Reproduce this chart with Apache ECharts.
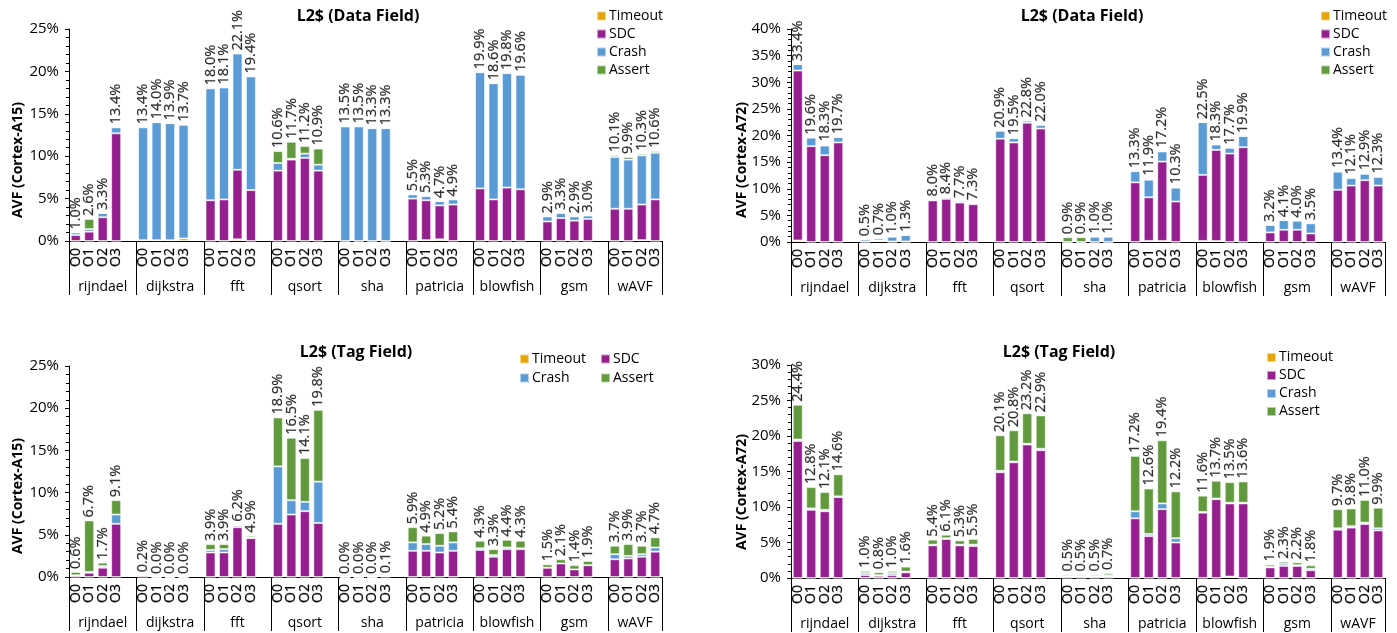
<!DOCTYPE html>
<html>
<head>
<meta charset="utf-8">
<title>L2$ AVF</title>
<script src="https://cdn.jsdelivr.net/npm/echarts@6/dist/echarts.min.js"></script>
<style>
  html, body { margin: 0; padding: 0; background: #fff; }
  #chart { width: 1397px; height: 633px; }
</style>
</head>
<body>
<div id="chart"></div>
<script>
// Benchmarks (groups) and optimisation levels (bars within a group)
const benchmarks = ['rijndael', 'dijkstra', 'fft', 'qsort', 'sha', 'patricia', 'blowfish', 'gsm', 'wAVF'];
const levels = ['O0', 'O1', 'O2', 'O3'];
const outcomes = ['Timeout', 'SDC', 'Crash', 'Assert'];
const yMaxA15 = 25;   // axis max (%) for Cortex-A15 panels
const yMaxA72Data = 40;
const yMaxA72Tag = 30;

// AVF (%) per benchmark, O0..O3 — Cortex-A15, data field
const a15DataTimeout = [0,0,0,0, 0.1,0.1,0.1,0.3, 0,0,0.2,0, 0,0,0,0, 0,0,0,0, 0,0.1,0.2,0, 0,0,0,0, 0,0,0,0, 0,0,0.1,0];
const a15DataSdc     = [0.7,1.1,2.8,12.7, 0,0,0,0, 4.8,4.9,8.2,6.0, 8.3,9.6,9.8,8.3, 0,0,0,0, 5.0,4.7,4.0,4.3, 6.2,4.9,6.3,6.1, 2.3,2.7,2.4,2.6, 3.8,3.8,4.2,4.9];
const a15DataCrash   = [0.3,0.3,0.5,0.7, 13.3,13.9,13.8,13.4, 13.2,13.2,13.7,13.4, 0.9,0.1,0.5,0.7, 13.5,13.5,13.3,13.3, 0.5,0.5,0.5,0.6, 13.7,13.7,13.5,13.5, 0.6,0.6,0.5,0.4, 6.1,5.8,5.8,5.5];
const a15DataAssert  = [0,1.2,0,0, 0,0,0,0, 0,0,0,0, 1.4,2.0,0.9,1.9, 0,0,0,0, 0,0,0,0, 0,0,0,0, 0,0,0,0, 0.2,0.3,0.2,0.2];

// Cortex-A72, data field
const a72DataTimeout = [0.3,0,0,0, 0,0.2,0,0, 0,0,0,0, 0,0,0,0, 0,0,0,0, 0,0.2,0.2,0, 0.2,0.2,0,0, 0,0,0,0, 0,0,0,0];
const a72DataSdc     = [31.9,18.0,16.3,18.7, 0.1,0.1,0.1,0.1, 7.8,8.1,7.4,7.1, 19.4,18.7,22.4,21.3, 0,0,0,0, 11.2,8.2,14.9,7.6, 12.4,17.1,16.6,17.8, 1.8,2.3,2.3,1.6, 9.8,10.6,11.6,10.6];
const a72DataCrash   = [1.2,1.6,1.8,1.0, 0.4,0.4,0.9,1.2, 0.2,0.3,0.3,0.2, 1.5,0.8,0.4,0.7, 0,0,1.0,1.0, 2.1,3.3,1.9,2.6, 9.9,1.0,1.1,2.1, 1.4,1.8,1.7,1.9, 3.4,1.4,1.2,1.6];
const a72DataAssert  = [0,0,0.2,0, 0,0,0,0, 0,0,0,0, 0,0,0,0, 0.9,0.9,0,0, 0,0.2,0.2,0.1, 0,0,0,0, 0,0,0,0, 0.2,0.1,0.1,0.1];

// Cortex-A15, tag field
const a15TagTimeout = [0,0,0,0, 0,0,0,0, 0,0,0,0, 0,0,0,0, 0,0,0,0, 0,0,0,0, 0,0,0,0, 0,0,0,0, 0,0,0,0];
const a15TagSdc     = [0.2,0.5,1.1,6.3, 0.2,0,0,0, 2.9,2.9,5.9,4.6, 6.3,7.4,7.8,6.4, 0,0,0,0.1, 3.1,3.1,2.9,3.1, 3.2,2.4,3.3,3.3, 1.1,1.6,0.9,1.4, 2.1,2.2,2.4,3.0];
const a15TagCrash   = [0,0.1,0.2,1.1, 0,0,0,0, 0.3,0.4,0.2,0.1, 6.8,1.7,1.1,4.9, 0,0,0,0, 1.0,0.8,0.8,1.0, 0.2,0.2,0.2,0.1, 0,0,0,0, 0.6,0.3,0.3,0.5];
const a15TagAssert  = [0.4,6.1,0.4,1.7, 0,0,0,0, 0.7,0.6,0.1,0.2, 5.8,7.4,5.2,8.5, 0,0,0,0, 1.8,1.0,1.5,1.3, 0.9,0.7,0.9,0.9, 0.4,0.5,0.5,0.5, 1.0,1.4,1.0,1.2];

// Cortex-A72, tag field
const a72TagTimeout = [0,0,0,0, 0,0,0,0, 0,0,0,0, 0,0,0,0, 0,0,0,0, 0,0,0,0, 0,0,0.2,0, 0,0,0,0, 0,0,0,0];
const a72TagSdc     = [19.3,9.6,9.4,11.4, 0.4,0.3,0.4,0.8, 4.6,5.5,4.6,4.5, 14.9,16.3,18.8,18.0, 0.2,0.2,0.2,0.2, 8.4,5.9,9.7,5.0, 9.2,11.1,10.3,10.5, 1.5,1.7,1.7,1.1, 6.8,7.1,7.6,6.7];
const a72TagCrash   = [0.2,0.2,0.2,0.1, 0.3,0.1,0.3,0.1, 0.1,0.1,0.1,0.2, 0.2,0.1,0.1,0.2, 0.1,0.1,0.1,0.2, 1.0,0.3,0.8,0.6, 0.1,0.1,0.1,0.1, 0.1,0.3,0.1,0.2, 0.2,0.2,0.2,0.3];
const a72TagAssert  = [4.9,3.0,2.5,3.1, 0.3,0.4,0.3,0.7, 0.7,0.5,0.6,0.8, 5.0,4.4,4.3,4.7, 0.2,0.2,0.2,0.3, 7.8,6.4,8.9,6.6, 2.3,2.5,2.9,3.0, 0.3,0.3,0.4,0.5, 2.7,2.5,3.2,2.9];

const colors = { Timeout: '#E5A503', SDC: '#951F8E', Crash: '#5A9BD5', Assert: '#609A3C' };
const FONT = '"Open Sans", "Noto Sans", sans-serif';
const TEXT = '#000';

// Insert one empty slot between benchmark groups (none after the last group)
function withGaps(vals, gap) {
  const out = [];
  vals.forEach((v, i) => {
    out.push(v);
    if (i % 4 === 3 && i < vals.length - 1) out.push(gap);
  });
  return out;
}

const flatLevels = [];
benchmarks.forEach(() => levels.forEach(l => flatLevels.push(l)));
const categories = withGaps(flatLevels, '');
const slotCount = categories.length;               // 44
const groupEdges = [];
const groupCenters = [];
benchmarks.forEach((b, i) => {
  groupEdges.push(i * 5);
  groupCenters.push(i < benchmarks.length - 1 ? i * 5 + 2.5 : (i * 5 + slotCount) / 2);
});
groupEdges.push(slotCount);

const panels = [
  { title: 'L2$ (Data Field)', yName: 'AVF (Cortex-A15)', yMax: yMaxA15,
    data: [a15DataTimeout, a15DataSdc, a15DataCrash, a15DataAssert],
    grid: { left: 69, top: 29, width: 593, height: 212 },
    titlePos: [358, 16], yNamePos: [18, 160] },
  { title: 'L2$ (Data Field)', yName: 'AVF (Cortex-A72)', yMax: yMaxA72Data,
    data: [a72DataTimeout, a72DataSdc, a72DataCrash, a72DataAssert],
    grid: { left: 791, top: 29, width: 594, height: 213 },
    titlePos: [1082, 16], yNamePos: [742, 160] },
  { title: 'L2$ (Tag Field)', yName: 'AVF (Cortex-A15)', yMax: yMaxA15,
    data: [a15TagTimeout, a15TagSdc, a15TagCrash, a15TagAssert],
    grid: { left: 69, top: 366, width: 593, height: 211 },
    titlePos: [356, 352], yNamePos: [18, 496] },
  { title: 'L2$ (Tag Field)', yName: 'AVF (Cortex-A72)', yMax: yMaxA72Tag,
    data: [a72TagTimeout, a72TagSdc, a72TagCrash, a72TagAssert],
    grid: { left: 791, top: 365, width: 594, height: 213 },
    titlePos: [1059, 352], yNamePos: [742, 492] }
];

const grids = [], xAxes = [], yAxes = [], series = [], graphics = [];

panels.forEach((p, g) => {
  grids.push(p.grid);

  // slot axis: O0..O3 under each bar
  xAxes.push({
    type: 'category', gridIndex: g, data: categories, position: 'bottom',
    axisLine: { lineStyle: { color: '#000', width: 1 } },
    axisTick: { show: false },
    axisLabel: { interval: 0, rotate: 90, margin: 7, fontSize: 14, fontFamily: FONT, color: TEXT,
                 textBorderColor: '#000', textBorderWidth: 0.25 }
  });
  // group axis: benchmark names with separators
  xAxes.push({
    type: 'value', gridIndex: g, min: 0, max: slotCount, position: 'bottom',
    axisLine: { show: false },
    splitLine: { show: false },
    axisTick: { show: true, customValues: groupEdges, length: 54, lineStyle: { color: '#000', width: 1 } },
    axisLabel: {
      customValues: groupCenters, margin: 39, fontSize: 14, fontFamily: FONT, color: TEXT,
      formatter: v => benchmarks[groupCenters.indexOf(v)] || ''
    }
  });

  yAxes.push({
    type: 'value', gridIndex: g, min: 0, max: p.yMax, interval: 5,
    axisLine: { show: true, lineStyle: { color: '#000', width: 1 } },
    axisTick: { show: true, length: 4, lineStyle: { color: '#000' } },
    minorTick: { show: true, splitNumber: 5, length: 3, lineStyle: { color: '#000' } },
    splitLine: { show: false },
    axisLabel: { formatter: '{value}%', fontSize: 15, margin: 10, fontFamily: FONT, color: TEXT }
  });

  outcomes.forEach((name, k) => {
    series.push({
      name, type: 'bar', stack: 'avf' + g,
      xAxisIndex: g * 2, yAxisIndex: g,
      barCategoryGap: '26%',
      itemStyle: { color: colors[name], borderColor: 'rgba(255,255,255,0.55)', borderWidth: 1 },
      data: withGaps(p.data[k], '-'),
      silent: true
    });
  });

  // total AVF above each bar
  const totals = [];
  const flatTotals = p.data[0].map((_, i) =>
    Math.round((p.data[0][i] + p.data[1][i] + p.data[2][i] + p.data[3][i]) * 10) / 10);
  withGaps(flatTotals, null).forEach((t, i) => { if (t !== null) totals.push([i, t]); });
  series.push({
    type: 'scatter', xAxisIndex: g * 2, yAxisIndex: g, silent: true,
    symbolSize: 0, itemStyle: { color: '#000' },
    data: totals,
    label: {
      show: true, position: 'top', distance: 3, rotate: 90, align: 'left', verticalAlign: 'middle',
      fontSize: 14.5, fontFamily: FONT, color: '#000',
      textBorderColor: '#000', textBorderWidth: 0.25,
      formatter: d => d.value[1].toFixed(1) + '%'
    }
  });

  graphics.push({
    type: 'text', x: p.titlePos[0], y: p.titlePos[1],
    style: { text: p.title, font: 'bold 16px ' + FONT, fill: '#000', textAlign: 'center', textVerticalAlign: 'middle', align: 'center', verticalAlign: 'middle' }
  });
  graphics.push({
    type: 'text', x: p.yNamePos[0], y: p.yNamePos[1], rotation: Math.PI / 2,
    style: { text: p.yName, font: 'bold 14px ' + FONT, fill: '#000', textAlign: 'center', textVerticalAlign: 'middle', align: 'center', verticalAlign: 'middle' }
  });
});

const legendBase = {
  itemWidth: 9, itemHeight: 9, padding: 0, selectedMode: false,
  icon: 'rect',
  textStyle: { fontSize: 14, fontFamily: FONT, color: TEXT, padding: [0, 0, 0, -2] }
};
const legends = [
  Object.assign({}, legendBase, { orient: 'vertical', left: 596, top: 9, itemGap: 4, data: outcomes }),
  Object.assign({}, legendBase, { orient: 'vertical', left: 1320, top: 9, itemGap: 4, data: outcomes }),
  Object.assign({}, legendBase, { left: 519, top: 352, data: ['Timeout'] }),
  Object.assign({}, legendBase, { left: 600, top: 352, data: ['SDC'] }),
  Object.assign({}, legendBase, { left: 519, top: 371, data: ['Crash'] }),
  Object.assign({}, legendBase, { left: 600, top: 371, data: ['Assert'] }),
  Object.assign({}, legendBase, { orient: 'vertical', left: 1266, top: 350.5, itemGap: 4, data: outcomes })
];

const chart = echarts.init(document.getElementById('chart'), null, { renderer: 'canvas' });
chart.setOption({
  animation: false,
  color: outcomes.map(o => colors[o]),
  grid: grids,
  xAxis: xAxes,
  yAxis: yAxes,
  legend: legends,
  series,
  graphic: graphics
});
</script>
</body>
</html>
